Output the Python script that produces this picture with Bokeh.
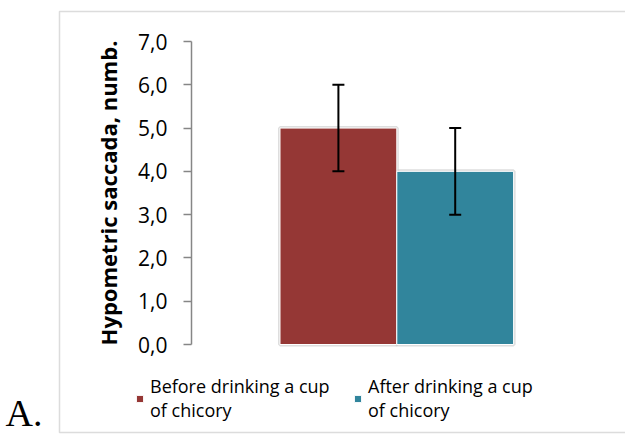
from bokeh.plotting import figure
from bokeh.models import (Range1d, FixedTicker, LinearAxis, ColumnDataSource, Whisker,
                          TeeHead, Legend, LegendItem, Label, BoxAnnotation)
from bokeh.embed import file_html
from bokeh.resources import INLINE

# Chart data
categories = ["Before drinking a cup\nof chicory", "After drinking a cup\nof chicory"]
values = [5.0, 4.0]
errors = [1.0, 1.0]
colors = ["#953735", "#31859C"]
tick_values = [0, 1, 2, 3, 4, 5, 6, 7]
tick_labels = ["0,0", "1,0", "2,0", "3,0", "4,0", "5,0", "6,0", "7,0"]

FONT = "Open Sans"
W, H = 625, 435

# pixel layout of the plotting area (frame covers the whole canvas)
PX_PER_CAT = 116.8      # horizontal pixels per category slot
FIRST_CAT_PX = 337.9    # centre of the first bar
AXIS_PX = 191           # x of the value axis
Y0_PX, Y7_PX = 344, 41  # pixel rows of 0 and 7
px_per_unit = (Y0_PX - Y7_PX) / 7.0

x_start = -FIRST_CAT_PX / PX_PER_CAT
x_end = x_start + W / PX_PER_CAT
y_start = -(H - Y0_PX) / px_per_unit
y_end = 7 + Y7_PX / px_per_unit

p = figure(width=W, height=H, output_backend="svg", toolbar_location=None,
           x_range=Range1d(x_start, x_end), y_range=Range1d(y_start, y_end),
           x_axis_type=None, y_axis_type=None,
           min_border=0)
p.outline_line_color = None
p.background_fill_color = "white"
p.border_fill_color = "white"

# Value axis
yaxis = LinearAxis(ticker=FixedTicker(ticks=tick_values), bounds=(0, 7),
                   fixed_location=x_start + AXIS_PX / PX_PER_CAT,
                   axis_label="Hypometric saccada, numb.")
yaxis.major_label_overrides = {t: lab for t, lab in zip(tick_values, tick_labels)}
yaxis.axis_line_color = "#868686"
yaxis.axis_line_width = 1.5
yaxis.major_tick_line_color = "#868686"
yaxis.major_tick_line_width = 1.5
yaxis.major_tick_out = 8
yaxis.major_tick_in = 0
yaxis.minor_tick_out = 0
yaxis.minor_tick_in = 0
yaxis.major_label_standoff = 16
yaxis.major_label_text_font = FONT
yaxis.major_label_text_font_size = "21px"
yaxis.major_label_text_color = "black"
yaxis.axis_label_text_font = FONT
yaxis.axis_label_text_font_size = "22px"
yaxis.axis_label_text_font_style = "bold"
yaxis.axis_label_text_color = "black"
yaxis.axis_label_standoff = 12
p.add_layout(yaxis, "left")

idx = list(range(len(categories)))
src = ColumnDataSource(dict(
    x=idx, top=values, color=colors, label=categories,
    upper=[v + e for v, e in zip(values, errors)],
    lower=[v - e for v, e in zip(values, errors)],
))

# soft shadow behind the bars
p.vbar(x="x", top="top", bottom=0, width=1.0, source=src, fill_color=None,
       line_color="#c8c8c8", line_width=4, line_alpha=0.6)
bars = p.vbar(x="x", top="top", bottom=0, width=1.0, source=src,
              fill_color="color", line_color="white", line_width=1)

whisk = Whisker(base="x", upper="upper", lower="lower", source=src, level="overlay",
                line_color="black", line_width=2,
                upper_head=TeeHead(size=12, line_width=2, line_color="black"),
                lower_head=TeeHead(size=12, line_width=2, line_color="black"))
p.add_layout(whisk)

# chart-area border
p.add_layout(BoxAnnotation(left=59, right=W + 50, top=H - 11, bottom=H - 432,
                           left_units="screen", right_units="screen",
                           top_units="screen", bottom_units="screen",
                           fill_color=None, line_color="#8c8c8c", line_width=1.5))

# one legend per series, side by side under the chart
for i, (cat, loc) in enumerate(zip(categories, [(135, 13), (353, 13)])):
    leg = Legend(items=[LegendItem(label=cat, renderers=[bars], index=i)],
                 location=loc, orientation="horizontal",
                 border_line_color=None, background_fill_alpha=0,
                 padding=0, margin=0, spacing=0,
                 glyph_width=9, glyph_height=9, label_standoff=6,
                 label_text_font=FONT, label_text_font_size="18px",
                 label_text_line_height=0.9, label_text_color="black")
    p.add_layout(leg, "center")

p.add_layout(Label(x=5, y=H - 391, x_units="screen", y_units="screen", text="A.",
                   text_font="Liberation Serif", text_font_size="38px",
                   text_color="black", text_baseline="top"))

open("out.html", "w").write(file_html(p, INLINE))
